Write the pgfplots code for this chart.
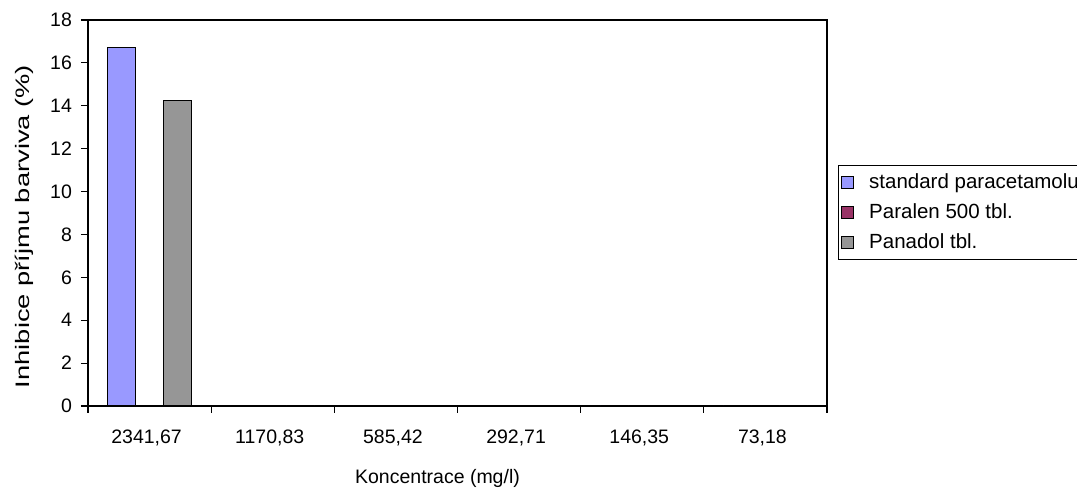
\documentclass[border=0pt]{standalone}
\usepackage{fontspec}
\setmainfont{Liberation Sans}
\usepackage{pgfplots}
\pgfplotsset{compat=1.18}
\definecolor{stdblue}{HTML}{9999FF}
\definecolor{paralen}{HTML}{993366}
\definecolor{panadol}{HTML}{969696}

\pgfplotsset{
  mybar/.style={ybar, draw=black, line width=0.6pt, bar width=0.227,
    legend image code/.code={%
      \path[draw=none, fill=none] (0pt,0pt) -- (12pt,0pt);
      \draw[##1, line width=0.6pt] (0pt,-3pt) rectangle (6pt,3pt);}},
}

\begin{document}
\begin{tikzpicture}[font=\fontsize{9.75}{11}\selectfont]
\begin{axis}[
  at={(0,0)}, anchor=south west,
  scale only axis, width=369.5pt, height=193pt,
  xmin=-0.5, xmax=5.5, ymin=0, ymax=18,
  ytick={0,2,...,18},
  xtick={0,...,5},
  xticklabels={{2341,67},{1170,83},{585,42},{292,71},{146,35},{73,18}},
  major x tick style={draw=none},
  minor xtick={-0.5,0.5,...,5.5},
  minor x tick style={black, line width=0.6pt},
  major y tick style={black, line width=0.6pt},
  tick align=outside,
  major tick length=3.5pt, minor tick length=3.5pt,
  xtick pos=bottom, ytick pos=left,
  axis line style={line width=0.6pt},
  /pgf/number format/assume math mode=true,
  tick label style={font=\fontsize{9.75}{11}\selectfont},
  xticklabel style={yshift=-5pt, xshift=-1.5pt},
  yticklabel style={xshift=-1pt},
  xlabel={Koncentrace (mg/l)},
  ylabel={\scalebox{1.4}[1]{Inhibice příjmu barviva (\%)}},
  xlabel style={yshift=-4.5pt, xshift=-10pt},
  ylabel style={yshift=1.5pt, xshift=-6.75pt},
  legend style={at={(1.0149,0.6244)}, anchor=north west, draw=black,
    line width=0.6pt, font=\fontsize{10.25}{11.5}\selectfont,
    row sep=2.1pt, inner xsep=1pt, inner ysep=2pt},
  legend cell align=left,
]
\addplot[mybar, bar shift=-0.227, fill=stdblue]
  coordinates {(0,16.7) (1,0) (2,0) (3,0) (4,0) (5,0)};
\addlegendentry{standard paracetamolu}
\addplot[mybar, bar shift=0, fill=paralen]
  coordinates {(0,0) (1,0) (2,0) (3,0) (4,0) (5,0)};
\addlegendentry{Paralen 500 tbl.}
\addplot[mybar, bar shift=0.227, fill=panadol]
  coordinates {(0,14.25) (1,0) (2,0) (3,0) (4,0) (5,0)};
\addlegendentry{Panadol tbl.}
\end{axis}
\pgfresetboundingbox
\path[use as bounding box] (-44pt,-42.5pt) rectangle (494.5pt,203pt);
\end{tikzpicture}
\end{document}
